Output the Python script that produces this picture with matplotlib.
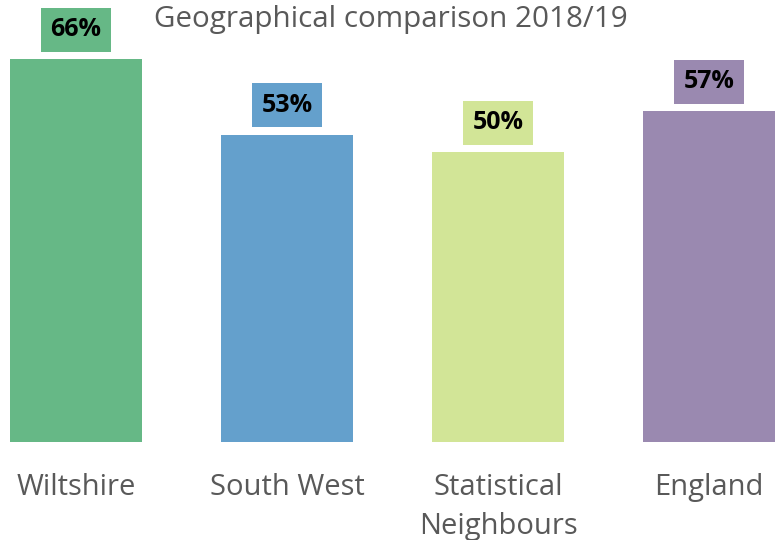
import matplotlib
matplotlib.use('Agg')
import matplotlib.pyplot as plt

# ── Data ─────────────────────────────────────────────────────────
categories = ['Wiltshire', 'South West', 'Statistical\nNeighbours', 'England']
values = [66, 53, 50, 57]
colors = ['#66b886', '#64a0cc', '#d2e597', '#9a89b0']

plt.rcParams['font.family'] = ['Open Sans', 'DejaVu Sans']
grey_txt = '#595959'

W, H = 782, 540
fig = plt.figure(figsize=(W / 100, H / 100), dpi=100)
# axes spans the full width; bar baseline sits at 442 px from the top
ax = fig.add_axes([0, 1 - 442 / H, 1, 442 / H])

x = list(range(len(categories)))
ax.bar(x, values, width=0.6256, color=colors, zorder=2)
ax.set_xlim(-76 / 211, (W - 76) / 211)
ax.set_ylim(0, 442 / 5.8)

# value labels in coloured boxes above each bar
for xi, v, c in zip(x, values, colors):
    ax.annotate(f'{v}%', (xi, v), textcoords='offset points', xytext=(0, 21.2),
                ha='center', va='center', fontsize=18, fontweight='bold',
                color='black',
                bbox=dict(boxstyle='square,pad=0.38', facecolor=c, edgecolor='none'))

# category labels
ax.set_xticks(x)
ax.set_xticklabels(categories, fontsize=21, color=grey_txt, linespacing=1.45)
ax.tick_params(axis='x', length=0, pad=22.5)
ax.set_yticks([])
for s in ax.spines.values():
    s.set_visible(False)

fig.text(0.5, 1 - 27 / H, 'Geographical comparison 2018/19', ha='center',
         va='baseline', fontsize=21.3, color=grey_txt)

fig.savefig('out.png', dpi=100)
plt.close(fig)
